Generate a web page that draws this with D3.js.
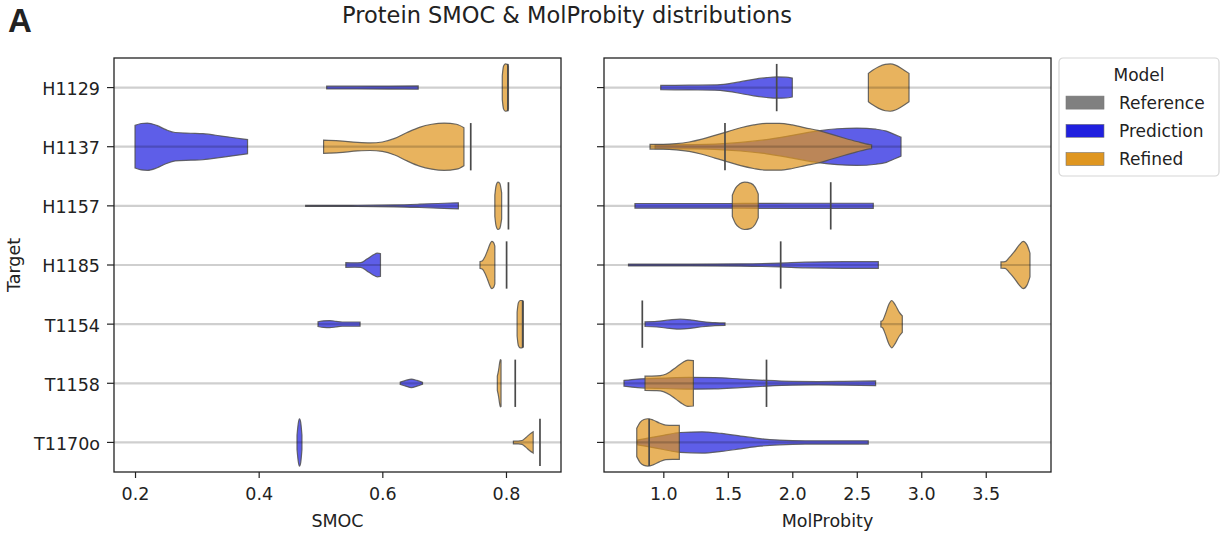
<!DOCTYPE html>
<html>
<head>
<meta charset="utf-8">
<script src="https://cdn.jsdelivr.net/npm/d3@7"></script>
<style>
  body { margin: 0; background: #fff; }
  text { font-family: "DejaVu Sans", sans-serif; fill: #222; }
</style>
</head>
<body>
<script>
// targets (rows) and tick values
var targets = ["H1129", "H1137", "H1157", "H1185", "T1154", "T1158", "T1170o"];
var smocTicks = [0.2, 0.4, 0.6, 0.8];
var molTicks = [1.0, 1.5, 2.0, 2.5, 3.0, 3.5];

// reference model values, one per target
var smocReference = [0.803, 0.743, 0.804, 0.801, 0.827, 0.815, 0.855];
var molReference = [1.879, 1.478, 2.298, 1.91, 0.837, 1.80, 0.89];

// violin profiles: [value, relative density]
var smocPrediction = [
  [[0.51,0.06],[0.56,0.06],[0.61,0.065],[0.658,0.07]],
  [[0.200,0.9],[0.21,0.98],[0.22,1.0],[0.235,0.9],[0.25,0.72],[0.265,0.6],[0.29,0.57],[0.31,0.55],[0.34,0.45],[0.36,0.38],[0.382,0.3]],
  [[0.476,0.02],[0.55,0.025],[0.62,0.04],[0.66,0.07],[0.69,0.1],[0.71,0.12],[0.723,0.13]],
  [[0.541,0.1],[0.555,0.09],[0.565,0.1],[0.575,0.25],[0.585,0.42],[0.592,0.5],[0.597,0.48]],
  [[0.496,0.1],[0.505,0.14],[0.515,0.15],[0.525,0.12],[0.535,0.09],[0.55,0.09],[0.564,0.09]],
  [[0.629,0.05],[0.638,0.12],[0.647,0.18],[0.656,0.12],[0.665,0.04]],
  [[0.462,0.3],[0.464,0.8],[0.466,1.0],[0.468,0.85],[0.470,0.3]]
];
var smocRefined = [
  [[0.794,0.5],[0.796,0.9],[0.799,1.0],[0.802,0.98],[0.804,0.9]],
  [[0.505,0.28],[0.53,0.25],[0.56,0.18],[0.58,0.16],[0.60,0.2],[0.62,0.35],[0.64,0.6],[0.66,0.82],[0.68,0.95],[0.70,1.0],[0.72,0.95],[0.732,0.8]],
  [[0.782,0.45],[0.784,0.85],[0.787,1.0],[0.790,0.95],[0.793,0.55]],
  [[0.758,0.14],[0.762,0.18],[0.766,0.35],[0.770,0.6],[0.774,0.88],[0.777,1.0],[0.780,0.95],[0.782,0.8]],
  [[0.818,0.5],[0.820,0.9],[0.823,1.0],[0.826,1.0],[0.828,0.95]],
  [[0.786,0.3],[0.788,0.55],[0.790,0.9],[0.791,1.0],[0.792,0.98]],
  [[0.812,0.06],[0.820,0.06],[0.826,0.08],[0.832,0.2],[0.838,0.34],[0.844,0.45]]
];
var molPrediction = [
  [[0.98,0.09],[1.2,0.1],[1.4,0.11],[1.5,0.16],[1.6,0.25],[1.7,0.35],[1.8,0.42],[1.88,0.45],[1.95,0.44],[2.0,0.4]],
  [[0.936,0.08],[1.2,0.09],[1.4,0.11],[1.6,0.18],[1.8,0.3],[2.0,0.48],[2.2,0.67],[2.35,0.76],[2.5,0.79],[2.65,0.74],[2.73,0.66],[2.8,0.5],[2.843,0.4]],
  [[0.78,0.1],[1.5,0.1],[2.0,0.11],[2.628,0.11]],
  [[0.73,0.04],[1.2,0.04],[1.6,0.05],[1.9,0.08],[2.1,0.12],[2.4,0.14],[2.667,0.14]],
  [[0.858,0.1],[0.95,0.12],[1.05,0.18],[1.13,0.21],[1.22,0.17],[1.3,0.11],[1.4,0.06],[1.478,0.05]],
  [[0.695,0.12],[0.8,0.18],[1.0,0.22],[1.2,0.25],[1.4,0.24],[1.6,0.18],[1.8,0.12],[2.0,0.08],[2.2,0.07],[2.4,0.08],[2.646,0.1]],
  [[0.80,0.1],[0.9,0.2],[1.0,0.3],[1.13,0.42],[1.3,0.45],[1.45,0.38],[1.6,0.27],[1.75,0.16],[1.9,0.1],[2.1,0.07],[2.589,0.07]]
];
var molRefined = [
  [[2.59,0.6],[2.62,0.72],[2.67,0.88],[2.72,0.98],[2.76,1.0],[2.80,0.95],[2.85,0.8],[2.905,0.6]],
  [[0.897,0.1],[1.0,0.1],[1.1,0.13],[1.2,0.2],[1.3,0.32],[1.4,0.48],[1.5,0.64],[1.6,0.8],[1.7,0.92],[1.8,0.99],[1.9,0.99],[2.0,0.92],[2.1,0.8],[2.2,0.69],[2.3,0.53],[2.4,0.37],[2.5,0.22],[2.6,0.09],[2.615,0.08]],
  [[1.535,0.45],[1.56,0.75],[1.59,0.92],[1.63,1.0],[1.68,0.95],[1.71,0.8],[1.736,0.5]],
  [[3.618,0.13],[3.65,0.14],[3.68,0.3],[3.72,0.55],[3.76,0.85],[3.79,1.0],[3.82,0.85],[3.843,0.5]],
  [[2.687,0.12],[2.70,0.15],[2.72,0.4],[2.75,0.85],[2.77,1.0],[2.80,0.8],[2.83,0.5],[2.853,0.35]],
  [[0.858,0.3],[0.95,0.31],[1.0,0.35],[1.05,0.48],[1.1,0.68],[1.15,0.88],[1.19,0.98],[1.233,0.96]],
  [[0.794,0.6],[0.82,0.85],[0.85,0.97],[0.88,1.0],[0.92,0.95],[0.97,0.82],[1.02,0.73],[1.07,0.72],[1.124,0.72]]
];

var models = ["Reference", "Prediction", "Refined"];
var colors = {Reference: "#808080", Prediction: "#2020df", Refined: "#df9620"};

var svg = d3.select("body").append("svg").attr("width", 1225).attr("height", 536);

var plotTop = 58, plotBottom = 472;
var y = d3.scaleBand().domain(targets).range([plotTop, plotBottom]);
var half = d3.scaleLinear().domain([0, 1]).range([0, y.bandwidth() * 0.4]);

// draws one panel
var drawPanel = function(x0, x1, domain, ticks, fmt, pred, refd, refs, label, showY){
  var x = d3.scaleLinear().domain(domain).range([x0, x1]);
  var g = svg.append("g");

  var violin = function(profile, i){
    var cy = y(targets[i]) + y.bandwidth() / 2;
    return d3.area()
      .x(function(d){ return x(d[0]); })
      .y0(function(d){ return cy - half(d[1]); })
      .y1(function(d){ return cy + half(d[1]); })
      .curve(d3.curveMonotoneX)(profile);
  };

  [[pred, "Prediction"], [refd, "Refined"]].forEach(function(s){
    g.selectAll(null).data(s[0]).enter().append("path")
      .attr("d", violin)
      .attr("fill", colors[s[1]]).attr("fill-opacity", 0.72)
      .attr("stroke", "#505050").attr("stroke-width", 1.2).attr("stroke-opacity", 0.85);
  });

  // horizontal grid lines
  g.selectAll(null).data(targets).enter().append("line")
    .attr("x1", x0).attr("x2", x1)
    .attr("y1", function(d){ return y(d) + y.bandwidth() / 2; })
    .attr("y2", function(d){ return y(d) + y.bandwidth() / 2; })
    .attr("stroke", "#000").attr("stroke-opacity", 0.19).attr("stroke-width", 2.2);

  // reference values
  g.selectAll(null).data(refs).enter().append("line")
    .attr("x1", function(d){ return x(d); }).attr("x2", function(d){ return x(d); })
    .attr("y1", function(d, i){ return y(targets[i]) + y.bandwidth() / 2 - half(1); })
    .attr("y2", function(d, i){ return y(targets[i]) + y.bandwidth() / 2 + half(1); })
    .attr("stroke", "#4a4a4a").attr("stroke-width", 1.7);

  var xa = g.append("g").attr("transform", "translate(0," + plotBottom + ")")
    .call(d3.axisBottom(x).tickValues(ticks).tickFormat(fmt).tickSize(6).tickPadding(10));
  var ya = g.append("g").attr("transform", "translate(" + x0 + ",0)")
    .call(d3.axisLeft(y).tickSize(7).tickPadding(7).tickFormat(showY ? null : function(){ return ""; }));
  [xa, ya].forEach(function(a){
    a.select(".domain").remove();
    a.selectAll("line").attr("stroke", "#222").attr("stroke-width", 1.2);
    a.selectAll("text").style("font-size", "17.5px").attr("fill", "#222");
  });
  ya.selectAll("text").attr("dy", "0.42em");

  g.append("rect").attr("x", x0).attr("y", plotTop).attr("width", x1 - x0).attr("height", plotBottom - plotTop)
    .attr("fill", "none").attr("stroke", "#222").attr("stroke-width", 1.3);

  g.append("text").attr("x", (x0 + x1) / 2).attr("y", 527).attr("text-anchor", "middle")
    .style("font-size", "17.5px").text(label);
};

drawPanel(114, 561, [0.166, 0.889], smocTicks, d3.format(".1f"), smocPrediction, smocRefined, smocReference, "SMOC", true);
drawPanel(604, 1051, [0.54, 4.006], molTicks, d3.format(".1f"), molPrediction, molRefined, molReference, "MolProbity", false);

svg.append("text").attr("transform", "translate(20," + ((plotTop + plotBottom) / 2) + ") rotate(-90)")
  .attr("text-anchor", "middle").style("font-size", "17.5px").text("Target");

svg.append("text").attr("x", 567).attr("y", 23).attr("text-anchor", "middle")
  .style("font-size", "22.5px").text("Protein SMOC & MolProbity distributions");
svg.append("text").attr("x", 8).attr("y", 32).style("font-family", "'Liberation Sans', Arial, sans-serif")
  .style("font-size", "33px").style("font-weight", "bold").attr("fill", "#000").text("A");

// legend
var lg = svg.append("g").attr("transform", "translate(1059,58)");
lg.append("rect").attr("width", 160).attr("height", 118).attr("rx", 4)
  .attr("fill", "#fff").attr("stroke", "#d6d6d6").attr("stroke-width", 1.2);
lg.append("text").attr("x", 80).attr("y", 23).attr("text-anchor", "middle").style("font-size", "17px").text("Model");
models.forEach(function(m, i){
  var cy = 44.6 + i * 28.2;
  lg.append("rect").attr("x", 7).attr("y", cy - 6.5).attr("width", 38).attr("height", 13)
    .attr("fill", colors[m]).attr("stroke", "#777").attr("stroke-width", 0.6);
  lg.append("text").attr("x", 60).attr("y", cy + 6).style("font-size", "17px").text(m);
});
</script>
</body>
</html>
